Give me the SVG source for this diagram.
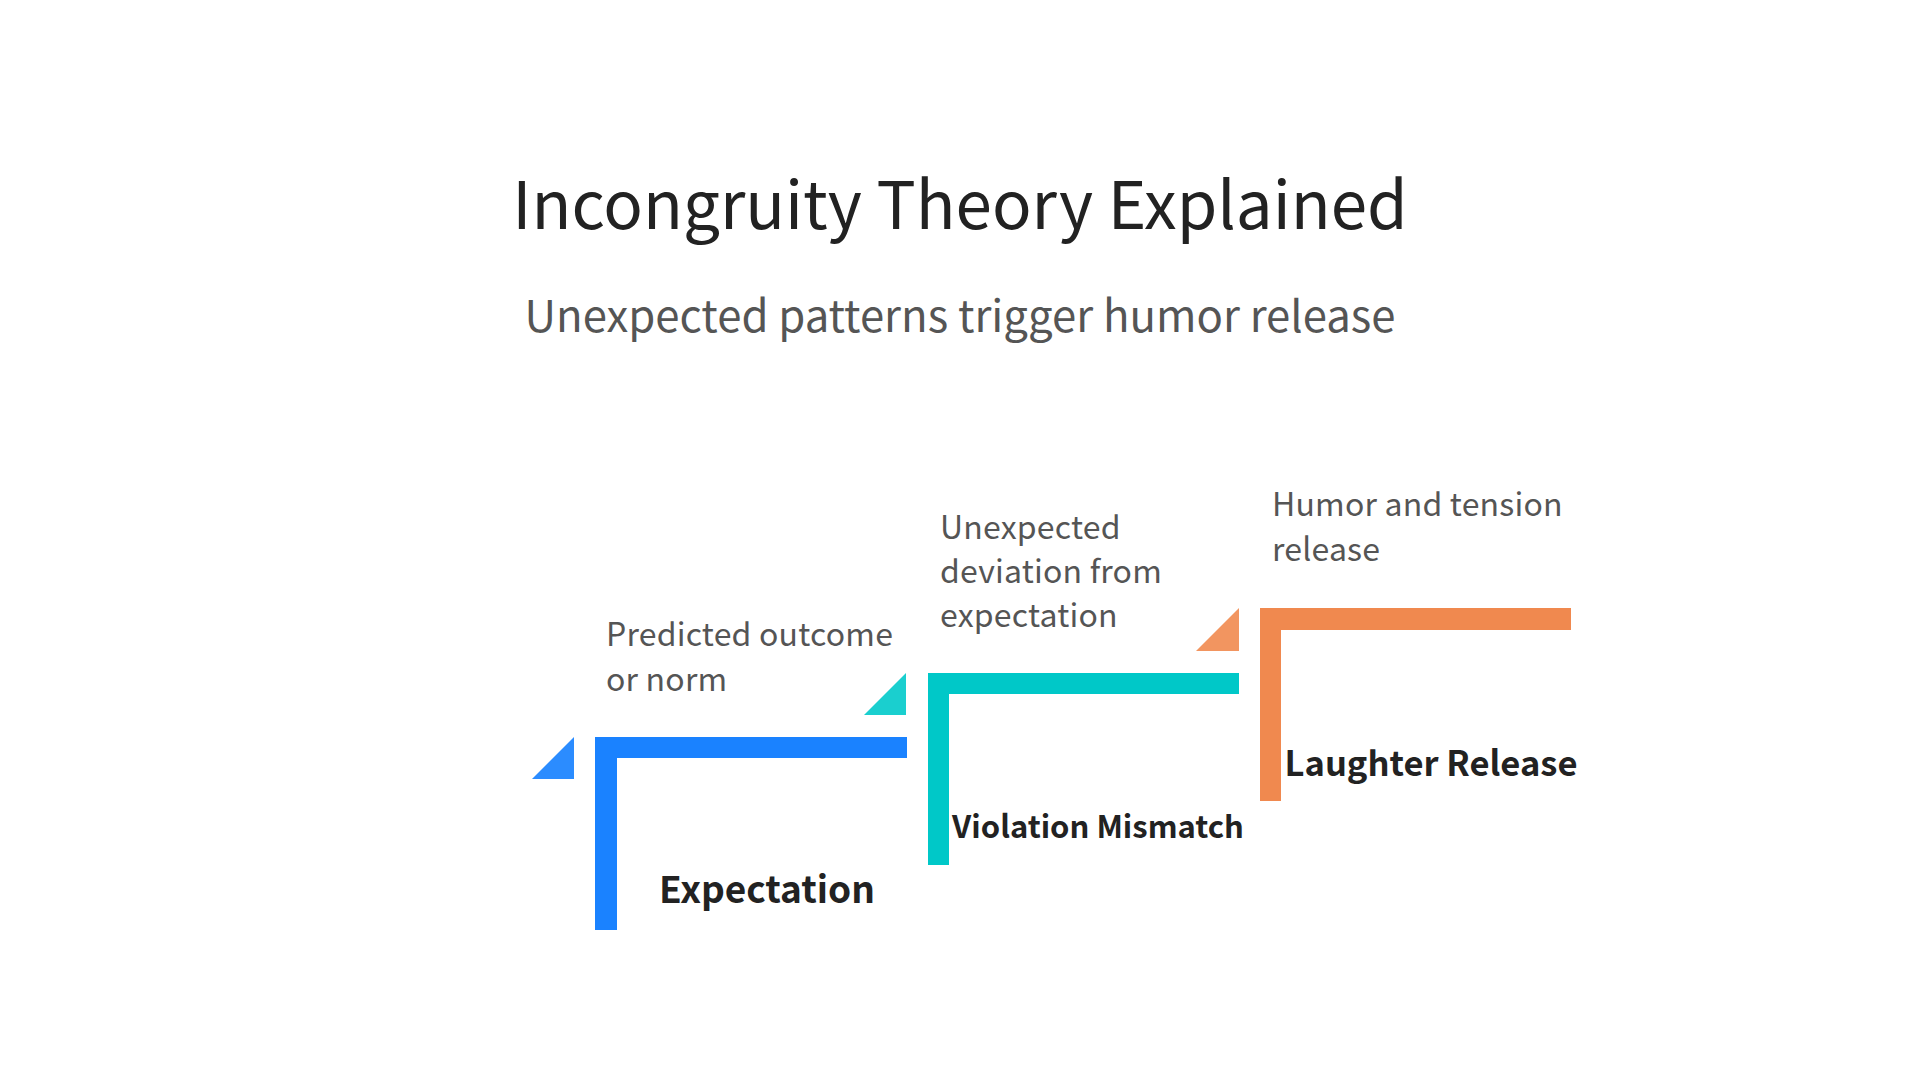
<svg xmlns="http://www.w3.org/2000/svg" width="1920" height="1080" viewBox="0 0 1920 1080">
<style>
.title{font-family:"Noto Sans CJK SC","Noto Sans",sans-serif;font-size:65.5px;fill:#222222;text-anchor:middle}
.sub{font-family:"Noto Sans CJK SC","Noto Sans",sans-serif;font-size:43.7px;fill:#555555;text-anchor:middle}
.desc{font-family:"Noto Sans CJK SC","Noto Sans",sans-serif;font-size:32px;letter-spacing:0.2px;fill:#555555}
.label{font-family:"Noto Sans CJK SC","Noto Sans",sans-serif;font-weight:bold;fill:#222222;text-anchor:middle}
</style>
<rect width="1920" height="1080" fill="#ffffff"/>
<text class="title" x="960" y="229">Incongruity Theory Explained</text>
<text class="sub" x="960" y="332">Unexpected patterns trigger humor release</text>
<g id="connectors"></g>
<g id="expectation">
<polygon points="532,779 574,737 574,779" fill="#2B8CFF"/>
<path d="M595,737 H907 V758 H617 V930 H595 Z" fill="#1A82FF"/>
<text class="desc" x="606" y="646">Predicted outcome</text>
<text class="desc" x="606" y="691">or norm</text>
<text class="label" x="767" y="903" font-size="37">Expectation</text>
</g>
<g id="violation">
<polygon points="864,715 906,673 906,715" fill="#1ACFCF"/>
<path d="M928,673 H1239 V694 H949 V865 H928 Z" fill="#00C8C8"/>
<text class="desc" x="940" y="539">Unexpected</text>
<text class="desc" x="940" y="583">deviation from</text>
<text class="desc" x="940" y="627">expectation</text>
<text class="label" x="1098" y="838" font-size="31">Violation Mismatch</text>
</g>
<g id="laughter">
<polygon points="1196,651 1239,608 1239,651" fill="#F29560"/>
<path d="M1260,608 H1571 V630 H1281 V801 H1260 Z" fill="#F0894F"/>
<text class="desc" x="1272" y="516">Humor and tension</text>
<text class="desc" x="1272" y="561">release</text>
<text class="label" x="1431" y="776" font-size="34.5">Laughter Release</text>
</g>
</svg>
